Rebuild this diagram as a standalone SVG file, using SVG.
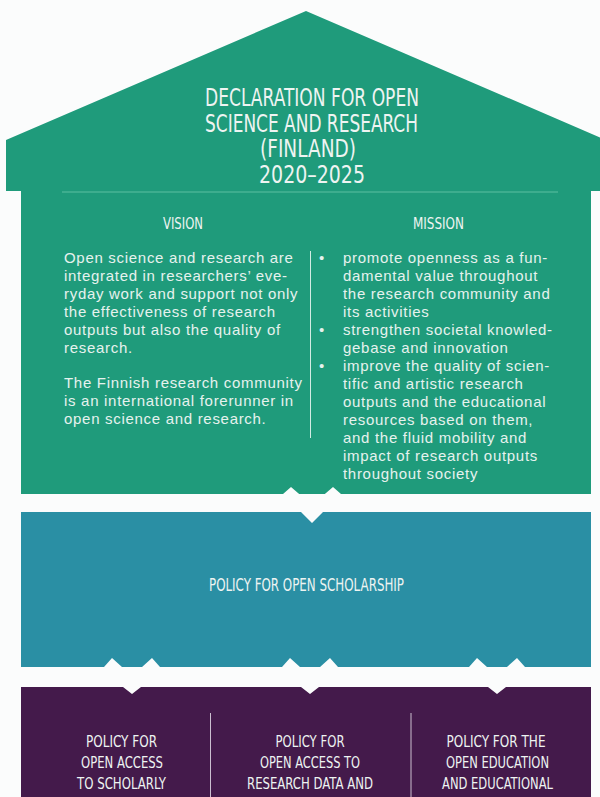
<svg xmlns="http://www.w3.org/2000/svg" width="600" height="797" viewBox="0 0 600 797">
<defs>
<style>
.bg{fill:#fbfcfc}
.green{fill:#1f9b7b}
.teal{fill:#2a8fa4}
.purple{fill:#441a4b}
.gap{fill:#fbfcfc}
.h{font-family:"Liberation Sans Narrow","DejaVu Sans Condensed","Liberation Sans",sans-serif;fill:#eef4f2;text-anchor:middle}
.b{font-family:"Liberation Sans","Arial",sans-serif;font-size:15px;letter-spacing:0.7px;fill:#e6f2ee}
.rule{stroke:#49b394;stroke-width:1.5;fill:none}
.vdiv{stroke:#d2ece3;stroke-width:1;fill:none}
.pdiv{stroke:#cbbfd0;stroke-width:1;fill:none}
</style>
</defs>
<rect class="bg" x="0" y="0" width="600" height="797"/>

<g id="declaration">
<polygon class="green" points="6,140 306,11 606,140 606,191 591,191 591,494 21,494 21,191 6,191"/>
<text class="h" font-size="24" x="312" y="106" textLength="214" lengthAdjust="spacingAndGlyphs">DECLARATION FOR OPEN</text>
<text class="h" font-size="24" x="311.5" y="131.5" textLength="213" lengthAdjust="spacingAndGlyphs">SCIENCE AND RESEARCH</text>
<text class="h" font-size="24" x="308" y="157" textLength="96" lengthAdjust="spacingAndGlyphs">(FINLAND)</text>
<text class="h" font-size="24" x="312" y="182.5" textLength="106" lengthAdjust="spacingAndGlyphs">2020–2025</text>
<line class="rule" x1="62" y1="192" x2="558" y2="192"/>
</g>

<g id="vision">
<text class="h" font-size="15" x="183" y="229" textLength="40" lengthAdjust="spacingAndGlyphs">VISION</text>
<text class="b" x="64" y="263">Open science and research are</text>
<text class="b" x="64" y="281">integrated in researchers’ eve-</text>
<text class="b" x="64" y="299">ryday work and support not only</text>
<text class="b" x="64" y="317">the effectiveness of research</text>
<text class="b" x="64" y="335">outputs but also the quality of</text>
<text class="b" x="64" y="353">research.</text>
<text class="b" x="64" y="388">The Finnish research community</text>
<text class="b" x="64" y="406">is an international forerunner in</text>
<text class="b" x="64" y="424">open science and research.</text>
</g>

<line class="vdiv" x1="310.5" y1="251" x2="310.5" y2="438"/>

<g id="mission">
<text class="h" font-size="15" x="438.5" y="229" textLength="51" lengthAdjust="spacingAndGlyphs">MISSION</text>
<text class="b" x="319" y="263">•</text>
<text class="b" x="319" y="335">•</text>
<text class="b" x="319" y="371">•</text>
<text class="b" x="343" y="263">promote openness as a fun-</text>
<text class="b" x="343" y="281">damental value throughout</text>
<text class="b" x="343" y="299">the research community and</text>
<text class="b" x="343" y="317">its activities</text>
<text class="b" x="343" y="335">strengthen societal knowled-</text>
<text class="b" x="343" y="353">gebase and innovation</text>
<text class="b" x="343" y="371">improve the quality of scien-</text>
<text class="b" x="343" y="389">tific and artistic research</text>
<text class="b" x="343" y="407">outputs and the educational</text>
<text class="b" x="343" y="425">resources based on them,</text>
<text class="b" x="343" y="443">and the fluid mobility and</text>
<text class="b" x="343" y="461">impact of research outputs</text>
<text class="b" x="343" y="479">throughout society</text>
</g>

<g id="open-scholarship">
<rect class="teal" x="21" y="512" width="570" height="155"/>
<text class="h" font-size="18" x="306.5" y="591" textLength="195" lengthAdjust="spacingAndGlyphs">POLICY FOR OPEN SCHOLARSHIP</text>
</g>

<g id="policies">
<rect class="purple" x="21" y="687" width="570" height="110"/>
<line class="pdiv" x1="210.5" y1="713" x2="210.5" y2="797"/>
<line class="pdiv" x1="411" y1="713" x2="411" y2="797"/>
</g>

<g id="policy-open-access">
<text class="h" font-size="16" x="121.5" y="747" textLength="71" lengthAdjust="spacingAndGlyphs">POLICY FOR</text>
<text class="h" font-size="16" x="122" y="768" textLength="82" lengthAdjust="spacingAndGlyphs">OPEN ACCESS</text>
<text class="h" font-size="16" x="121.5" y="789" textLength="89" lengthAdjust="spacingAndGlyphs">TO SCHOLARLY</text>
</g>
<g id="policy-research-data">
<text class="h" font-size="16" x="310" y="747" textLength="69" lengthAdjust="spacingAndGlyphs">POLICY FOR</text>
<text class="h" font-size="16" x="310" y="768" textLength="100" lengthAdjust="spacingAndGlyphs">OPEN ACCESS TO</text>
<text class="h" font-size="16" x="310" y="789" textLength="126" lengthAdjust="spacingAndGlyphs">RESEARCH DATA AND</text>
</g>
<g id="policy-open-education">
<text class="h" font-size="16" x="496" y="747" textLength="99" lengthAdjust="spacingAndGlyphs">POLICY FOR THE</text>
<text class="h" font-size="16" x="497.5" y="768" textLength="103" lengthAdjust="spacingAndGlyphs">OPEN EDUCATION</text>
<text class="h" font-size="16" x="497.5" y="789" textLength="111" lengthAdjust="spacingAndGlyphs">AND EDUCATIONAL</text>
</g>

<g id="connectors">
<path class="gap" d="M283,494 L291,487 L312,505 L333,487 L341,494 L341,512 L323,512 L312,523 L301,512 L283,494 Z"/>
<path class="gap" d="M104,667 L112,658 L132,676 L152,658 L160,667 L160,687 L141,687 L132,694 L123,687 L104,667 Z"/>
<path class="gap" d="M282,667 L290,658 L310,676 L330,658 L338,667 L338,687 L319,687 L310,694 L301,687 L282,667 Z"/>
<path class="gap" d="M469,667 L477,658 L497,676 L517,658 L525,667 L525,687 L506,687 L497,694 L488,687 L469,667 Z"/>
</g>
</svg>
